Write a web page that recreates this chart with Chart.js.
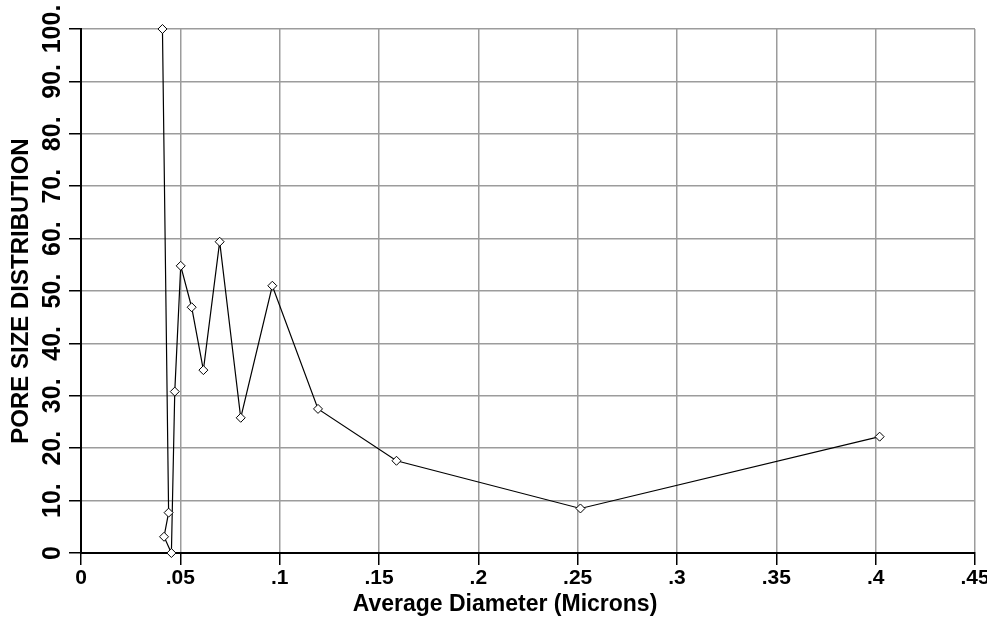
<!DOCTYPE html>
<html>
<head>
<meta charset="utf-8">
<script src="https://cdn.jsdelivr.net/npm/chart.js@4/dist/chart.umd.min.js"></script>
<style>
  html, body { margin: 0; padding: 0; background: #fff; }
  #wrap { width: 987px; height: 621px; }
</style>
</head>
<body>
<div id="wrap"><canvas id="chart"></canvas></div>
<script>
// Pore size distribution vs. average diameter
const diameters = [0.0410, 0.0441, 0.0418, 0.0455, 0.0472, 0.0502, 0.0557, 0.0616,
                   0.0698, 0.0804, 0.0963, 0.1193, 0.1588, 0.2514, 0.4020];
const distribution = [100, 7.7, 3.1, 0, 30.8, 54.8, 46.9, 34.9,
                      59.4, 25.8, 51.0, 27.5, 17.6, 8.5, 22.2];

const xTitle = 'Average Diameter (Microns)';
const yTitle = 'PORE SIZE DISTRIBUTION';

const FONT = "'Liberation Sans', Arial, sans-serif";
const gridColor = '#9c9c9c';

// strip the leading zero: 0.05 -> ".05"
const xTick = v => v === 0 ? '0' : String(+v.toFixed(2)).replace(/^0\./, '.');
const yTick = v => v === 0 ? '0' : v + '.';

// x axis title is centred a little left of the plot centre in the original
const xTitlePlugin = {
    id: 'xTitle',
    afterDraw(chart) {
        const ctx = chart.ctx;
        ctx.save();
        ctx.font = 'bold 23px ' + FONT;
        ctx.fillStyle = '#000';
        ctx.textAlign = 'center';
        ctx.textBaseline = 'middle';
        ctx.fillText(xTitle, 505, 605);
        ctx.restore();
    }
};

new Chart(document.getElementById('chart'), {
    type: 'line',
    data: {
        datasets: [{
            data: diameters.map((d, i) => ({ x: d, y: distribution[i] })),
            borderColor: '#000',
            borderWidth: 1.2,
            pointStyle: 'rectRot',
            pointRadius: 4.5,
            pointBackgroundColor: '#fff',
            pointBorderColor: '#000',
            pointBorderWidth: 1,
            tension: 0,
            clip: false
        }]
    },
    options: {
        responsive: true,
        maintainAspectRatio: false,
        animation: false,
        events: [],
        layout: { padding: { left: 0, right: 12, top: 29, bottom: 0 } },
        plugins: { legend: { display: false }, tooltip: { enabled: false } },
        scales: {
            x: {
                type: 'linear',
                min: 0,
                max: 0.45,
                ticks: {
                    stepSize: 0.05,
                    callback: xTick,
                    color: '#000',
                    padding: 1,
                    maxRotation: 0,
                    font: { family: FONT, size: 21, weight: 'bold' }
                },
                grid: { color: gridColor, lineWidth: 1.5, tickColor: '#000', tickLength: 12, tickWidth: 1.5 },
                border: { color: '#000', width: 2 },
                afterFit(scale) {
                    scale.height = 68;
                    scale.paddingLeft = 0;
                    scale.paddingRight = 0;
                }
            },
            y: {
                min: 0,
                max: 100,
                ticks: {
                    stepSize: 10,
                    callback: yTick,
                    color: '#000',
                    padding: -8,
                    minRotation: 90,
                    maxRotation: 90,
                    crossAlign: 'center',
                    font: { family: FONT, size: 25, weight: 'bold' }
                },
                grid: { color: gridColor, lineWidth: 1.5, tickColor: '#000', tickLength: 12, tickWidth: 1.5 },
                border: { color: '#000', width: 2 },
                title: {
                    display: true,
                    text: yTitle,
                    color: '#000',
                    padding: { top: 7, bottom: 0 },
                    font: { family: FONT, size: 24, weight: 'bold' }
                },
                afterFit(scale) {
                    scale.width = 81;
                    scale.paddingTop = 0;
                    scale.paddingBottom = 0;
                }
            }
        }
    },
    plugins: [xTitlePlugin]
});
</script>
</body>
</html>
